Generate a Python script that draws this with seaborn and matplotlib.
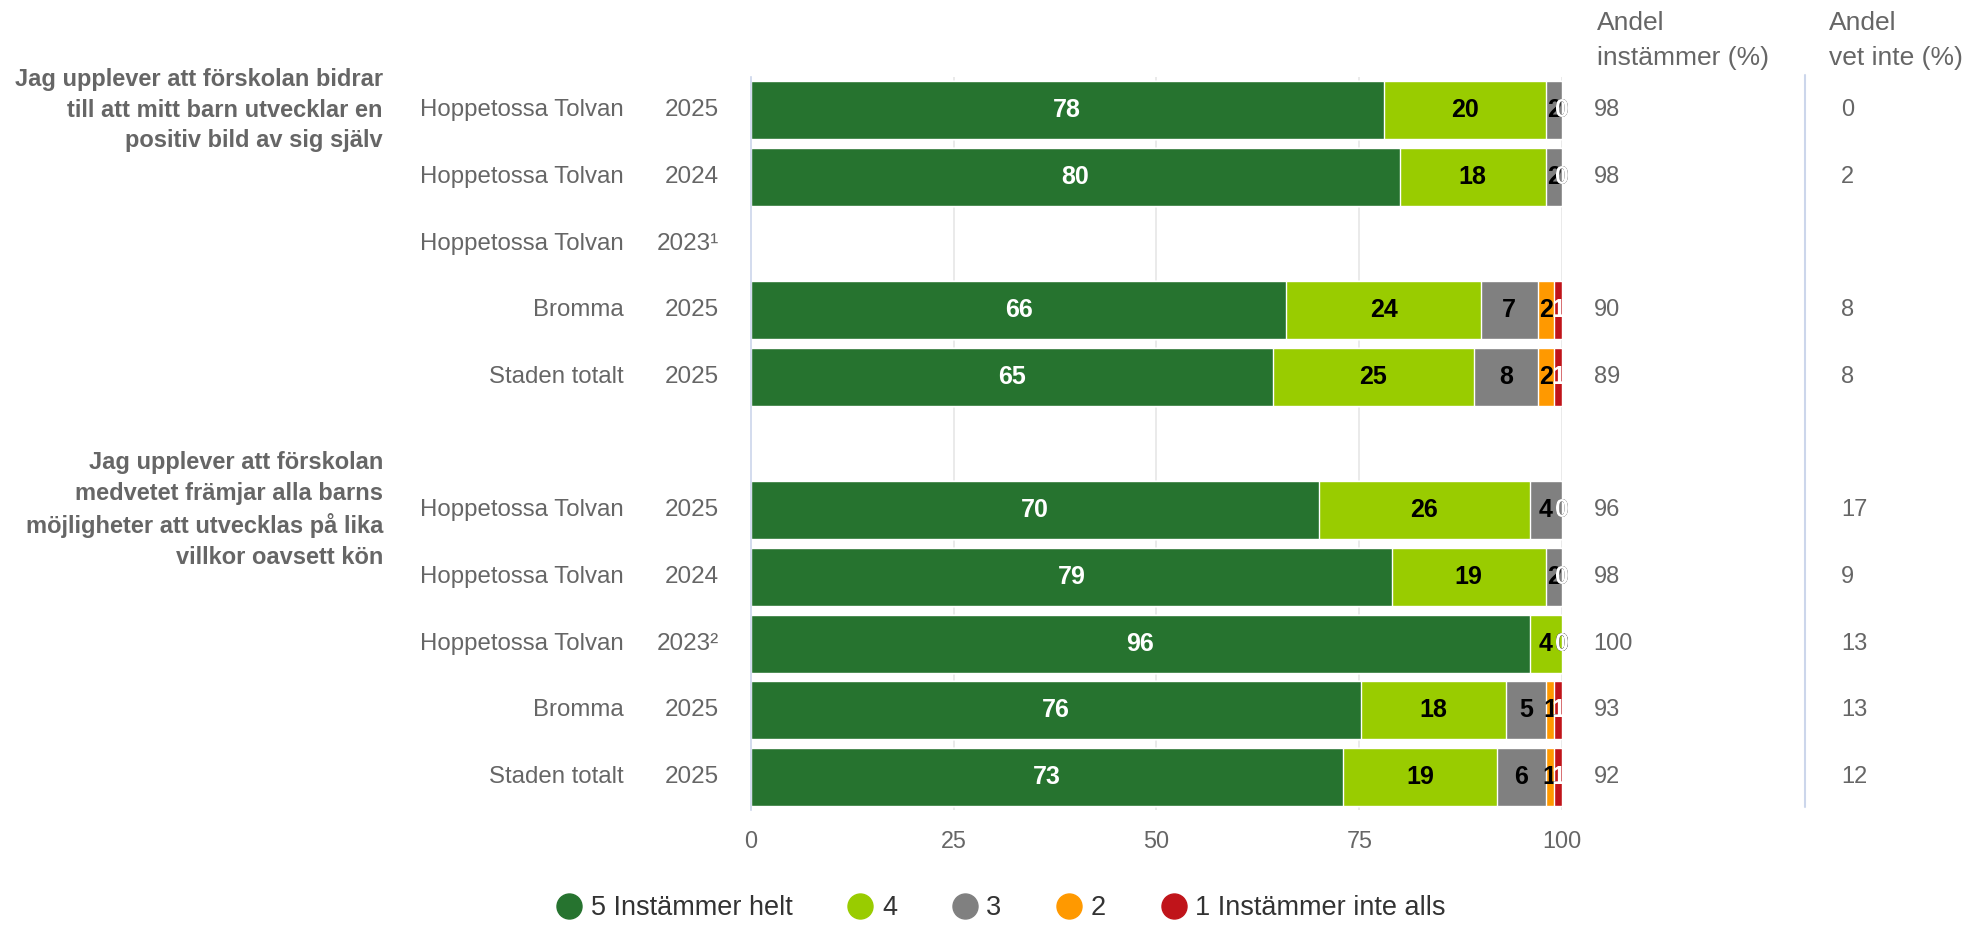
import numpy as np
import pandas as pd
import matplotlib
matplotlib.use('Agg')
import matplotlib.pyplot as plt
import matplotlib.transforms as mtransforms
from matplotlib.lines import Line2D
import seaborn as sns

# Row labels (empty strings = spacer rows)
names = ["Hoppetossa Tolvan", "Hoppetossa Tolvan", "Hoppetossa Tolvan", "Bromma", "Staden totalt", "",
         "Hoppetossa Tolvan", "Hoppetossa Tolvan", "Hoppetossa Tolvan", "Bromma", "Staden totalt"]
years = ["2025", "2024", "2023¹", "2025", "2025", "",
         "2025", "2024", "2023²", "2025", "2025"]

questions = ["Jag upplever att förskolan bidrar\ntill att mitt barn utvecklar en\npositiv bild av sig själv",
             "Jag upplever att förskolan\nmedvetet främjar alla barns\nmöjligheter att utvecklas på lika\nvillkor oavsett kön"]
question_rows = [0, 6]

# Answer shares per row (None = no data)
s5 = [78, 80, None, 66, 65, None, 70, 79, 96, 76, 73]
s4 = [20, 18, None, 24, 25, None, 26, 19, 4, 18, 19]
s3 = [2, 2, None, 7, 8, None, 4, 2, 0, 5, 6]
s2 = [0, 0, None, 2, 2, None, 0, 0, 0, 1, 1]
s1 = [0, 0, None, 1, 1, None, 0, 0, 0, 1, 1]

andel_instammer = ["98", "98", "", "90", "89", "", "96", "98", "100", "93", "92"]
andel_vet_inte = ["0", "2", "", "8", "8", "", "17", "9", "13", "13", "12"]

series_names = ["5 Instämmer helt", "4", "3", "2", "1 Instämmer inte alls"]
colors = ["#26732f", "#99cc00", "#808080", "#ff9900", "#c0141a"]
label_colors = ["white", "black", "black", "black", "white"]
xticks = [0, 25, 50, 75, 100]

# Build long table with cumulative (normalised to 100) ends
row_ids = [f"r{i}" for i in range(len(names))]
records = []
for i, rid in enumerate(row_ids):
    vals = [s5[i], s4[i], s3[i], s2[i], s1[i]]
    if vals[0] is None:
        continue
    total = sum(vals)
    cum = 0
    for k, v in enumerate(vals):
        start = cum / total * 100
        cum += v
        end = cum / total * 100
        records.append({"row": rid, "idx": i, "series": k, "value": v, "start": start, "end": end})
df = pd.DataFrame(records)

sns.set_style("white")
plt.rcParams['font.family'] = ['Liberation Sans', 'DejaVu Sans']
text_grey = "#666666"
axis_col = "#ccd6eb"

fig = plt.figure(figsize=(19.7, 9.27), dpi=100)
ax = fig.add_axes([0.3812, 0.126, 0.4117, 0.791])

# Stacked bars: draw cumulative ends, last series first
for k in reversed(range(5)):
    sub = df[df["series"] == k]
    sns.barplot(data=sub, x="end", y="row", order=row_ids, orient="h", color=colors[k],
                saturation=1, width=0.87, edgecolor="white", linewidth=1, errorbar=None, ax=ax)

# Data labels
for k in range(5):
    sub = df[df["series"] == k]
    for _, r in sub.iterrows():
        ax.text((r["start"] + r["end"]) / 2, r["idx"], str(int(r["value"])), ha="center", va="center",
                fontsize=18, fontweight="bold", color=label_colors[k], zorder=5)

ax.set_xlim(0, 100)
ax.set_ylim(len(names) - 0.5, -0.5)
ax.set_xlabel("")
ax.set_ylabel("")
ax.set_xticks(xticks)
ax.set_xticklabels([str(t) for t in xticks])
ax.tick_params(axis="x", length=0, pad=14, labelsize=16.8, labelcolor=text_grey)
ax.set_yticks(np.arange(len(names)))
ax.set_yticklabels([])
ax.set_yticks(np.arange(len(names) + 1) - 0.5, minor=True)
ax.tick_params(axis="y", which="major", length=0)
ax.tick_params(axis="y", which="minor", length=7, width=1.2, color=axis_col, direction="out")
ax.set_axisbelow(True)
for t in xticks[1:]:
    ax.axvline(t, color="#e6e6e6", linewidth=1.2, zorder=0)
for side in ["top", "right", "bottom"]:
    ax.spines[side].set_visible(False)
ax.spines["left"].set_color(axis_col)
ax.spines["left"].set_linewidth(1.2)

# Row labels
trans = mtransforms.blended_transform_factory(ax.transAxes, ax.transData)
for i in range(len(names)):
    ax.text(-0.1566, i, names[i], transform=trans, ha="right", va="center", fontsize=17.3, color=text_grey)
    ax.text(-0.0395, i, years[i], transform=trans, ha="right", va="center", fontsize=17.5, color=text_grey)
for q, r in zip(questions, question_rows):
    ax.text(-0.4538, r, q, transform=trans, ha="right", va="center", fontsize=17,
            fontweight="bold", color=text_grey, linespacing=1.42)

# Right hand columns
trans_fig = mtransforms.blended_transform_factory(fig.transFigure, ax.transData)
for i in range(len(names)):
    ax.text(0.809, i, andel_instammer[i], transform=trans_fig, ha="left", va="center", fontsize=17, color=text_grey)
    ax.text(0.9345, i, andel_vet_inte[i], transform=trans_fig, ha="left", va="center", fontsize=17, color=text_grey)
fig.text(0.8105, 0.9566, "Andel\ninstämmer (%)", ha="left", va="center", fontsize=19, color=text_grey, linespacing=1.6)
fig.text(0.9285, 0.9566, "Andel\nvet inte (%)", ha="left", va="center", fontsize=19, color=text_grey, linespacing=1.6)
fig.add_artist(Line2D([0.9163, 0.9163], [0.129, 0.919], transform=fig.transFigure, color=axis_col, linewidth=1.5))

# Legend
handles = [Line2D([], [], marker="o", linestyle="", markersize=18, markerfacecolor=c, markeredgecolor=c)
           for c in colors]
fig.legend(handles, series_names, loc="center", bbox_to_anchor=(0.508, 0.02), ncol=5, frameon=False,
           fontsize=19.5, handlelength=1.0, handletextpad=0.3, columnspacing=2.0, labelcolor="#333333")

plt.savefig("out.png", dpi=100)
